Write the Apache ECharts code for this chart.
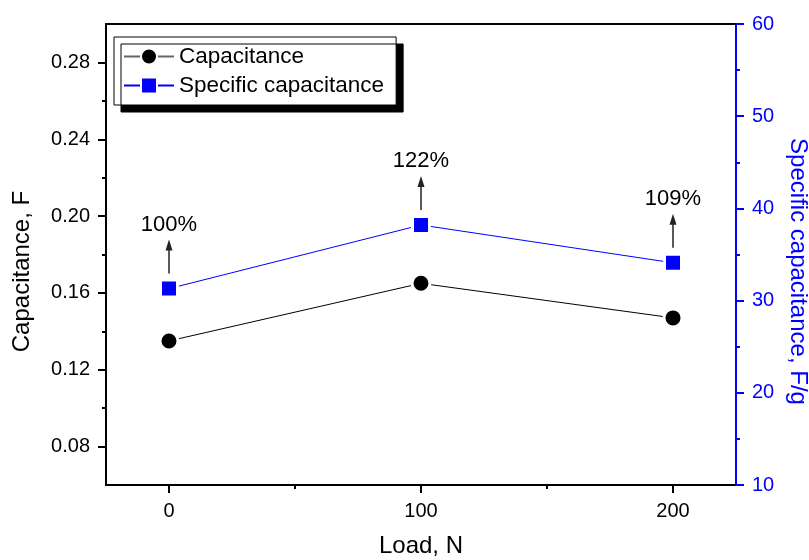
<!DOCTYPE html>
<html><head><meta charset="utf-8">
<script src="https://cdn.jsdelivr.net/npm/echarts@6/dist/echarts.min.js"></script>
<style>html,body{margin:0;padding:0;background:#fff}#c{width:809px;height:560px}</style>
</head><body><div id="c"></div>
<script>
// ---- data ----
const loads = [0, 100, 200];
const capacitance = [0.135, 0.165, 0.147];
const specificCapacitance = [31.3, 38.2, 34.1];
const retentionLabels = ['100%', '122%', '109%'];
const xTicks = [0, 100, 200];
const xMinorTicks = [50, 150];
const leftTicks = [0.08, 0.12, 0.16, 0.20, 0.24, 0.28];
const leftMinorTicks = [0.10, 0.14, 0.18, 0.22, 0.26];
const seriesNames = ['Capacitance', 'Specific capacitance'];
const xTitle = 'Load, N';
const leftTitle = 'Capacitance, F';
const rightTitle = 'Specific capacitance, F/g';

const FONT = '"Liberation Sans", Arial, Helvetica, sans-serif';
const BLUE = '#0000ff';

const chart = echarts.init(document.getElementById('c'), null, {renderer: 'canvas'});

const option = {
  backgroundColor: '#fff',
  animation: false,
  textStyle: {fontFamily: FONT},
  grid: {left: 106, right: 73, top: 24, bottom: 75, containLabel: false, outerBoundsMode: 'none',
    show: true, borderColor: '#000', borderWidth: 2, backgroundColor: 'transparent'},
  legend: {
    left: 114, top: 37, orient: 'vertical',
    padding: [8, 12, 8, 9], itemGap: 6, itemWidth: 50, itemHeight: 20,
    backgroundColor: '#fff', borderColor: '#000', borderWidth: 1,
    shadowColor: '#000', shadowBlur: 0, shadowOffsetX: 7, shadowOffsetY: 7,
    textStyle: {fontSize: 22.5, color: '#000', fontFamily: FONT, lineHeight: 22},
    data: [
      {name: seriesNames[0], lineStyle: {color: '#666'}},
      {name: seriesNames[1]}
    ]
  },
  xAxis: [
    {
      type: 'value', min: -25, max: 225, position: 'bottom',
      axisLine: {show: true, onZero: false, lineStyle: {color: '#000', width: 2}},
      axisTick: {show: true, customValues: xTicks, length: 8, lineStyle: {color: '#000', width: 2}},
      axisLabel: {customValues: xTicks, margin: 16, fontSize: 20, color: '#000', fontFamily: FONT},
      splitLine: {show: false},
      name: xTitle, nameLocation: 'middle', nameGap: 49,
      nameTextStyle: {fontSize: 24, color: '#000', fontFamily: FONT}
    },
    {
      type: 'value', min: -25, max: 225, position: 'bottom',
      axisLine: {show: false, onZero: false},
      axisTick: {show: true, customValues: xMinorTicks, length: 4, lineStyle: {color: '#000', width: 2}},
      axisLabel: {show: false},
      splitLine: {show: false}
    }
  ],
  yAxis: [
    {
      type: 'value', min: 0.06, max: 0.30, position: 'left',
      axisLine: {show: true, onZero: false, lineStyle: {color: '#000', width: 2}},
      axisTick: {show: true, customValues: leftTicks, length: 8, lineStyle: {color: '#000', width: 2}},
      axisLabel: {customValues: leftTicks, margin: 16, fontSize: 20, color: '#000', fontFamily: FONT,
        formatter: v => Number(v).toFixed(2)},
      splitLine: {show: false},
      name: leftTitle, nameLocation: 'middle', nameGap: 72, nameRotate: 90,
      nameTextStyle: {fontSize: 24, color: '#000', fontFamily: FONT, padding: [0, 34, 0, 0]}
    },
    {
      type: 'value', min: 10, max: 60, interval: 10, position: 'right',
      axisLine: {show: true, onZero: false, lineStyle: {color: BLUE, width: 2}},
      axisTick: {show: true, length: 8, lineStyle: {color: BLUE, width: 2}},
      minorTick: {show: true, splitNumber: 2, length: 4, lineStyle: {color: BLUE, width: 2}},
      axisLabel: {margin: 16, fontSize: 20, color: BLUE, fontFamily: FONT},
      splitLine: {show: false},
      name: rightTitle, nameLocation: 'middle', nameGap: 45, nameRotate: -90,
      nameTextStyle: {fontSize: 24, color: BLUE, fontFamily: FONT, padding: [0, 0, 0, 34]}
    },
    {
      type: 'value', min: 0.06, max: 0.30, position: 'left',
      axisLine: {show: false, onZero: false},
      axisTick: {show: true, customValues: leftMinorTicks, length: 4, lineStyle: {color: '#000', width: 2}},
      axisLabel: {show: false},
      splitLine: {show: false}
    }
  ],
  series: [
    {
      name: seriesNames[0], type: 'line', xAxisIndex: 0, yAxisIndex: 0,
      data: loads.map((x, i) => [x, capacitance[i]]),
      symbol: 'circle', symbolSize: 18,
      lineStyle: {color: '#000', width: 1},
      itemStyle: {color: '#000', borderColor: '#fff', borderWidth: 3},
      emphasis: {disabled: true}, z: 3
    },
    {
      name: seriesNames[1], type: 'line', xAxisIndex: 0, yAxisIndex: 1,
      data: loads.map((x, i) => [x, specificCapacitance[i]]),
      symbol: 'rect', symbolSize: 17,
      lineStyle: {color: BLUE, width: 1},
      itemStyle: {color: BLUE, borderColor: '#fff', borderWidth: 3},
      emphasis: {disabled: true}, z: 3
    }
  ]
};
chart.setOption(option);

// retention annotations (arrows + labels) above the specific-capacitance points
const graphics = [];
loads.forEach((x, i) => {
  const p = chart.convertToPixel({seriesIndex: 1}, [x, specificCapacitance[i]]);
  const px = p[0], py = p[1];
  graphics.push({type: 'line', shape: {x1: px, y1: py - 15, x2: px, y2: py - 40},
    style: {stroke: '#222', lineWidth: 1.5}, z: 10});
  graphics.push({type: 'polygon', shape: {points: [[px, py - 49], [px - 3.5, py - 38], [px + 3.5, py - 38]]},
    style: {fill: '#222'}, z: 10});
  graphics.push({type: 'text', x: px, y: py - 64,
    style: {text: retentionLabels[i], fontSize: 22, fontFamily: FONT, fill: '#000', align: 'center', verticalAlign: 'middle'}, z: 10});
});
chart.setOption({graphic: graphics});
</script>
</body></html>
